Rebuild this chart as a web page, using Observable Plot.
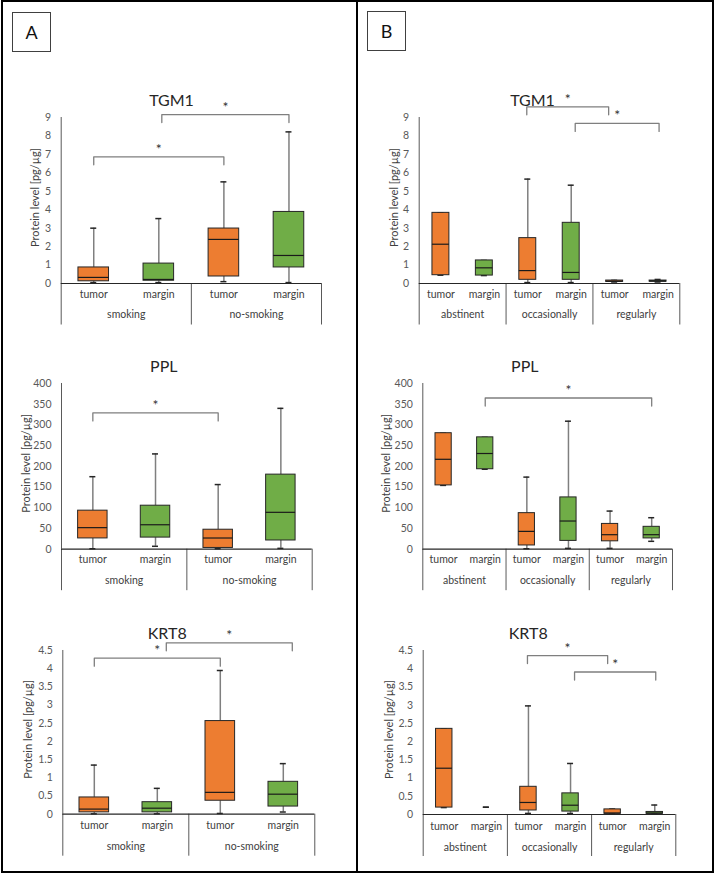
<!DOCTYPE html>
<html>
<head>
<meta charset="utf-8">
<script src="https://cdn.jsdelivr.net/npm/d3@7"></script>
<script src="https://cdn.jsdelivr.net/npm/@observablehq/plot@0.6"></script>
<style>
  body { margin: 0; width: 715px; height: 876px; position: relative; background: #fff; font-family: Lato, sans-serif; overflow: hidden; }
  .frame { position: absolute; left: 1px; top: 0; width: 713px; height: 873px; border: 2px solid #000; box-sizing: border-box; }
  .divider { position: absolute; left: 356px; top: 0; width: 2px; height: 873px; background: #000; }
  .tag { position: absolute; width: 39px; height: 40px; border: 1.5px solid #404040; box-sizing: border-box; font-size: 18px;
         display: flex; align-items: center; justify-content: center; color: #111; }
</style>
</head>
<body>
<div class="frame"></div>
<div class="divider"></div>
<div class="tag" style="left:12px;top:12px">A</div>
<div class="tag" style="left:367px;top:11px">B</div>
<div id="charts"></div>
<script>
const tissues = ["tumor", "margin"];
const smokingGroups = ["smoking", "no-smoking"];
const frequencyGroups = ["abstinent", "occasionally", "regularly"];
const yLabel = "Protein level [pg/µg]";

// Five-number summaries [min, Q1, median, Q3, max]; per group: tumor, then margin
const tgm1Smoking = [
  [0.05, 0.12, 0.33, 0.87, 3.0],
  [0.05, 0.15, 0.22, 1.08, 3.52],
  [0.1, 0.38, 2.39, 2.98, 5.51],
  [0.05, 0.87, 1.52, 3.88, 8.22]
];
const pplSmoking = [
  [1, 26, 52, 93, 175],
  [7, 28, 59, 105, 230],
  [1, 3, 27, 47, 156],
  [2, 21, 89, 180, 340]
];
const krt8Smoking = [
  [0.01, 0.05, 0.14, 0.46, 1.35],
  [0.01, 0.05, 0.165, 0.33, 0.71],
  [0.02, 0.37, 0.6, 2.56, 3.95],
  [0.06, 0.21, 0.55, 0.89, 1.39]
];
const tgm1Frequency = [
  [0.45, 0.45, 2.13, 3.83, 3.83],
  [0.43, 0.43, 0.85, 1.25, 1.25],
  [0.05, 0.2, 0.7, 2.46, 5.66],
  [0.05, 0.2, 0.6, 3.29, 5.33],
  [0.08, 0.09, 0.12, 0.16, 0.17],
  [0.08, 0.1, 0.13, 0.16, 0.22]
];
const pplFrequency = [
  [154, 154, 217, 280, 280],
  [193, 193, 231, 270, 270],
  [1, 9, 43, 87, 174],
  [2, 20, 68, 125, 309],
  [2, 19, 35, 61, 92],
  [19, 26, 35, 54, 76]
];
const krt8Frequency = [
  [0.19, 0.19, 1.27, 2.35, 2.35],
  [0.2, 0.2, 0.2, 0.2, 0.2],
  [0.03, 0.11, 0.33, 0.76, 2.98],
  [0.03, 0.08, 0.255, 0.58, 1.4],
  [0.01, 0.02, 0.04, 0.14, 0.15],
  [0.01, 0.02, 0.04, 0.07, 0.26]
];

// y-axis tick values
const tgm1Ticks = [0, 1, 2, 3, 4, 5, 6, 7, 8, 9];
const pplTicks = [0, 50, 100, 150, 200, 250, 300, 350, 400];
const krt8Ticks = [0, 0.5, 1, 1.5, 2, 2.5, 3, 3.5, 4, 4.5];

// significance brackets: [from group, from tissue, to group, to tissue, bracket level]
const tgm1SmokingSig = [["smoking", "tumor", "no-smoking", "tumor", 6.87], ["smoking", "margin", "no-smoking", "margin", 9.16]];
const pplSmokingSig = [["smoking", "tumor", "no-smoking", "tumor", 329]];
const krt8SmokingSig = [["smoking", "tumor", "no-smoking", "tumor", 4.29], ["smoking", "margin", "no-smoking", "margin", 4.71]];
const tgm1FrequencySig = [["occasionally", "tumor", "regularly", "tumor", 9.58], ["occasionally", "margin", "regularly", "margin", 8.68]];
const pplFrequencySig = [["abstinent", "margin", "regularly", "margin", 365]];
const krt8FrequencySig = [["occasionally", "tumor", "regularly", "tumor", 4.36], ["occasionally", "margin", "regularly", "margin", 3.91]];

const COLORS = {tumor: "#ED7D31", margin: "#70AD47"};
const BRACKET = {stroke: "#7f7f7f", strokeWidth: 1.3};

// Each category occupies one unit on a linear x scale; category i is centred at i + 0.5.
// legNudge: per-bracket pixel nudges of the [left, right] legs so stars and legs stay apart.
function boxChart({title, groups, stats, ticks, sig, left, x0, x1, yTop, yBot, titleX, labelX,
                   labelGap = 14, groupGap = 34.5, depthPx = 41.5, legNudge = []}) {
  const keys = groups.flatMap(g => tissues.map(t => g + "|" + t));
  const n = keys.length;
  const rows = keys.map((key, i) => {
    const [min, q1, med, q3, max] = stats[i];
    const [group, tissue] = key.split("|");
    return {i, pos: i + 0.5, group, tissue, min, q1, med, q3, max};
  });
  const yMax = ticks[ticks.length - 1];
  const width = 353;
  const top = yTop - 48;
  const height = yBot + 46 - top;
  const step = (x1 - x0) / n;               // pixels per category
  const half = (n === 4 ? 0.47 : 0.39) / 2; // box half-width, category units
  const cap = 3 / step;                     // whisker cap half-width
  const unit = (yBot - yTop) / yMax;        // pixels per data unit
  const depth = depthPx / unit;
  const leg = 8 / unit;

  const boxed = rows.filter(d => d.q3 > d.q1);
  const groupRows = groups.map((g, gi) => ({g, start: gi * 2, mid: gi * 2 + 1}));
  const bounds = groupRows.map(d => d.start);

  const brackets = sig.map(([g1, t1, g2, t2, h], id) => {
    const [na, nb] = legNudge[id] || [0, 0];
    const xa = keys.indexOf(g1 + "|" + t1) + 0.5 + na / step;
    const xb = keys.indexOf(g2 + "|" + t2) + 0.5 + nb / step;
    return {id, xa, xb, h};
  });
  const bracketPts = brackets.flatMap(({id, xa, xb, h}) => [
    {id, x: xa, y: h - leg}, {id, x: xa, y: h}, {id, x: xb, y: h}, {id, x: xb, y: h - leg}
  ]);

  const svg = Plot.plot({
    width, height,
    marginLeft: x0 - left,
    marginRight: left + width - x1,
    marginTop: yTop - top,
    marginBottom: top + height - yBot,
    style: {fontFamily: "Lato, sans-serif", fontSize: "10.5px", color: "#404040", background: "transparent", overflow: "visible"},
    x: {domain: [0, n], axis: null},
    y: {domain: [0, yMax]},
    marks: [
      Plot.axisY({ticks, tickSize: 0, tickPadding: 10, tickFormat: d => String(d), color: "#595959", fontSize: 10.5, label: null}),
      // value axis line and category separators
      Plot.ruleX([0], {y1: 0, y2: yMax, stroke: "#595959"}),
      Plot.ruleX([...bounds, n], {y1: 0, y2: -depth, stroke: "#595959"}),
      Plot.ruleY([0], {stroke: "#262626", strokeWidth: 1.2}),
      // whiskers with caps
      Plot.ruleX(rows, {x: "pos", y1: "min", y2: "q1", stroke: "#7f7f7f", strokeWidth: 1.5}),
      Plot.ruleX(rows, {x: "pos", y1: "q3", y2: "max", stroke: "#7f7f7f", strokeWidth: 1.5}),
      Plot.ruleY(rows, {y: "min", x1: d => d.pos - cap, x2: d => d.pos + cap, stroke: "#262626", strokeWidth: 1.5}),
      Plot.ruleY(rows, {y: "max", x1: d => d.pos - cap, x2: d => d.pos + cap, stroke: "#262626", strokeWidth: 1.5}),
      // interquartile boxes and medians
      Plot.rect(boxed, {x1: d => d.pos - half, x2: d => d.pos + half, y1: "q1", y2: "q3",
        fill: d => COLORS[d.tissue], stroke: "#262626", strokeWidth: 1}),
      Plot.ruleY(boxed, {y: "med", x1: d => d.pos - half, x2: d => d.pos + half, stroke: "#1a1a1a", strokeWidth: 1.2}),
      // two-level category axis
      Plot.text(rows, {x: "pos", text: "tissue", frameAnchor: "bottom", dy: labelGap, fill: "#404040", fontSize: 10.5}),
      Plot.text(groupRows, {x: "mid", text: "g", frameAnchor: "bottom", dy: groupGap, fill: "#404040", fontSize: 10.5}),
      // significance brackets
      Plot.line(bracketPts, {x: "x", y: "y", z: "id", ...BRACKET}),
      Plot.text(brackets, {x: d => (d.xa + d.xb) / 2, y: "h", text: () => "*", dy: -7.5, fontSize: 14, fill: "#333333"}),
      // title and value-axis label
      Plot.text([title], {text: d => d, frameAnchor: "top", textAnchor: "middle", dx: titleX - (x0 + x1) / 2, dy: -23.3, fontSize: 16, fill: "#262626"}),
      Plot.text([yLabel], {text: d => d, frameAnchor: "left", textAnchor: "middle", rotate: -90, dx: labelX - x0, dy: -3, fontSize: 11, fill: "#404040"})
    ]
  });
  svg.style.position = "absolute";
  svg.style.left = left + "px";
  svg.style.top = top + "px";
  document.getElementById("charts").appendChild(svg);
}

boxChart({title: "TGM1", groups: smokingGroups, stats: tgm1Smoking, ticks: tgm1Ticks, sig: tgm1SmokingSig,
  left: 3, x0: 60.7, x1: 321, yTop: 117.3, yBot: 283.3, titleX: 171, labelX: 35, legNudge: [[0, 0], [3, 0]]});
boxChart({title: "PPL", groups: smokingGroups, stats: pplSmoking, ticks: pplTicks, sig: pplSmokingSig,
  left: 3, x0: 61, x1: 311.7, yTop: 383.3, yBot: 549, titleX: 163.3, labelX: 26});
boxChart({title: "KRT8", groups: smokingGroups, stats: krt8Smoking, ticks: krt8Ticks, sig: krt8SmokingSig,
  left: 3, x0: 62.3, x1: 314.3, yTop: 650.3, yBot: 814, titleX: 166.7, labelX: 28.3, labelGap: 15, groupGap: 36, depthPx: 42,
  legNudge: [[0, 0], [9, 9]]});
boxChart({title: "TGM1", groups: frequencyGroups, stats: tgm1Frequency, ticks: tgm1Ticks, sig: tgm1FrequencySig,
  left: 358, x0: 418.7, x1: 679.3, yTop: 117.3, yBot: 283.3, titleX: 532, labelX: 393.7, legNudge: [[-1, -6], [4, 1]]});
boxChart({title: "PPL", groups: frequencyGroups, stats: pplFrequency, ticks: pplTicks, sig: pplFrequencySig,
  left: 358, x0: 422.3, x1: 672, yTop: 383.3, yBot: 549, titleX: 524.3, labelX: 386.3});
boxChart({title: "KRT8", groups: frequencyGroups, stats: krt8Frequency, ticks: krt8Ticks, sig: krt8FrequencySig,
  left: 358, x0: 422.7, x1: 675.3, yTop: 650.3, yBot: 814.3, titleX: 527.7, labelX: 389.3, labelGap: 15, groupGap: 36, depthPx: 42,
  legNudge: [[-1, -5], [4, 1]]});
</script>
</body>
</html>
